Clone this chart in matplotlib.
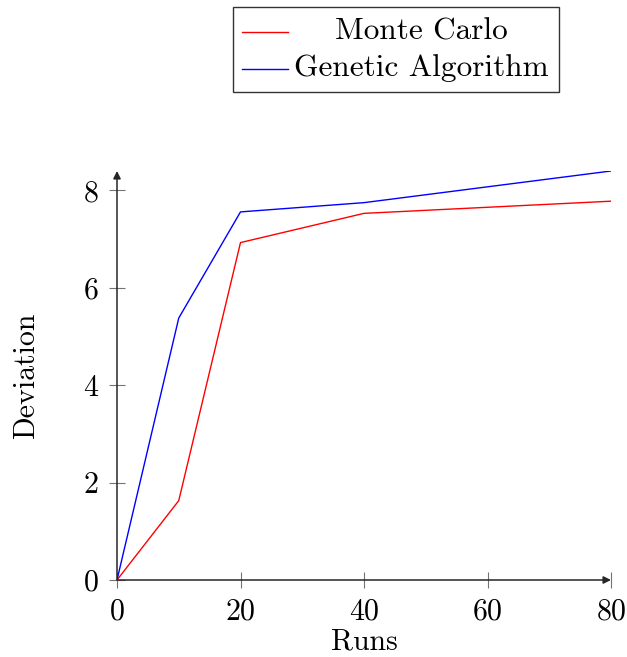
import matplotlib
matplotlib.use("Agg")
import matplotlib.pyplot as plt
from matplotlib.lines import Line2D
from matplotlib.patches import Rectangle

# data
runs = [0, 10, 20, 40, 80]
monte_carlo = [0, 1.63, 6.93, 7.53, 7.78]
genetic = [0, 5.38, 7.56, 7.75, 8.40]
series_names = ["Monte Carlo", "Genetic Algorithm"]
x_ticks = [0, 20, 40, 60, 80]
y_ticks = [0, 2, 4, 6, 8]

plt.rcParams['font.family'] = ['cmr10', 'DejaVu Serif']
plt.rcParams['axes.formatter.use_mathtext'] = True
plt.rcParams['mathtext.fontset'] = 'cm'

W, H = 627, 657
fig = plt.figure(figsize=(W / 100, H / 100), dpi=100)
# axes box in pixels: x 117..611, y 171..580 (from top)
ax = fig.add_axes([117 / W, (H - 580) / H, (611 - 117) / W, (580 - 171) / H])

ax.plot(runs, monte_carlo, color='red', lw=1.0)
ax.plot(runs, genetic, color='blue', lw=1.0)

ax.set_xlim(0, 80)
ax.set_ylim(0, 8.40)
ax.set_xticks(x_ticks)
ax.set_yticks(y_ticks)

for s in ax.spines.values():
    s.set_visible(False)

# axis lines with arrow heads
arrow = dict(arrowstyle='-|>', color='0.15', lw=1.1, mutation_scale=11,
             shrinkA=0, shrinkB=0)
ax.annotate('', xy=(1, 0), xytext=(0, 0), xycoords='axes fraction',
            arrowprops=arrow, annotation_clip=False)
ax.annotate('', xy=(0, 1), xytext=(0, 0), xycoords='axes fraction',
            arrowprops=arrow, annotation_clip=False)

ax.tick_params(direction='inout', length=11, width=0.8, color='0.45',
               labelsize=21.5, pad=7.5)

ax.set_xlabel('Runs', fontsize=21.5, labelpad=2)
ax.set_ylabel('Deviation', fontsize=21.5, labelpad=31)

# legend box drawn like the pgfplots one (entries centred in their cell)
bx0, by0, bx1, by1 = 233, 7, 559, 92
fig.add_artist(Rectangle((bx0 / W, 1 - by1 / H), (bx1 - bx0) / W, (by1 - by0) / H,
                         transform=fig.transFigure, fill=False,
                         edgecolor='0.2', lw=1.0))
rows = [(31.5, 'red'), (68.5, 'blue')]
for (yy, col), name in zip(rows, series_names):
    fig.add_artist(Line2D([242 / W, 288 / W], [1 - yy / H, 1 - yy / H],
                          transform=fig.transFigure, color=col, lw=1.0))
    fig.text(((292 + 550) / 2) / W, 1 - yy / H, name, ha='center', va='center',
             fontsize=22.5)

fig.savefig('out.png', dpi=100)
